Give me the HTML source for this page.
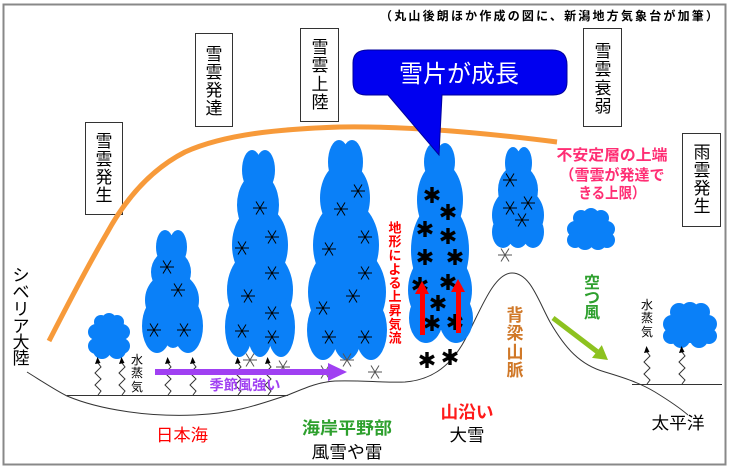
<!DOCTYPE html>
<html><head><meta charset="utf-8"><style>
html,body{margin:0;padding:0;background:#fff;}
svg{display:block;}
text{font-family:"Liberation Sans","Noto Sans CJK JP",sans-serif;}
</style></head><body>
<svg width="730" height="469" viewBox="0 0 730 469" xmlns="http://www.w3.org/2000/svg">
<defs>
<g id="a"><path d="M-7,0H7M-4,-6.5L4,6.5M-4,6.5L4,-6.5" stroke="#000" stroke-width="1" fill="none"/></g>
<g id="g"><path d="M-7,0H7M-4,-6.5L4,6.5M-4,6.5L4,-6.5" stroke="#555" stroke-width="1" fill="none"/></g>
<g id="b"><path d="M0,-8V8M-7,-4L7,4M-7,4L7,-4" stroke="#000" stroke-width="3.4" fill="none"/></g>
<g id="z"><path d="M0,0 L3,-4 L-3,-10 L3,-16 L-3,-22 L3,-28 L0,-32" stroke="#333" stroke-width="1" fill="none"/><path d="M-3,-31 L2.5,-32 L-0.5,-38 Z" fill="#000"/></g>
</defs>
<rect x="0" y="0" width="730" height="469" fill="#fff"/>
<rect x="3.5" y="4.5" width="722" height="460" fill="none" stroke="#888" stroke-width="2"/>

<text x="549" y="20" font-size="12" font-weight="bold" text-anchor="middle" textLength="338" lengthAdjust="spacing">（丸山後朗ほか作成の図に、新潟地方気象台が加筆）</text>

<!-- boxes -->
<g fill="#fff" stroke="#333" stroke-width="1">
<rect x="85.5" y="122.5" width="37" height="92"/>
<rect x="195.5" y="33.5" width="37" height="93"/>
<rect x="300.5" y="28.5" width="38" height="93"/>
<rect x="583.5" y="28.5" width="38" height="98"/>
<rect x="682.5" y="133.5" width="38" height="93"/>
</g>
<g font-size="17" text-anchor="middle" fill="#000">
<text x="104" y="147">雪</text><text x="104" y="165">雲</text><text x="104" y="183">発</text><text x="104" y="201">生</text>
<text x="214" y="60">雪</text><text x="214" y="78">雲</text><text x="214" y="96">発</text><text x="214" y="114">達</text>
<text x="320" y="53">雪</text><text x="320" y="71">雲</text><text x="320" y="90">上</text><text x="320" y="108">陸</text>
<text x="603" y="57">雪</text><text x="603" y="75">雲</text><text x="603" y="94">衰</text><text x="603" y="112">弱</text>
<text x="702" y="158">雨</text><text x="702" y="176">雲</text><text x="702" y="194">発</text><text x="702" y="212">生</text>
<text x="21" y="281">シ</text><text x="21" y="298">ベ</text><text x="21" y="315">リ</text><text x="21" y="332">ア</text><text x="21" y="348">大</text><text x="21" y="364">陸</text>
</g>

<!-- orange curve -->
<path d="M49,341 C70,300 90,262 107,233 C125,200 150,170 185,152 C225,134 280,129 340,127 C400,126 470,131 557,142" fill="none" stroke="#f79a3a" stroke-width="5"/>

<!-- ground lines -->
<path d="M27,372 C40,380 55,390 67,396 C100,410 150,417 195,415 C240,413 265,402 288,395 C305,388 318,382 335,381 C360,380 385,383 405,382 C430,380 448,368 462,345 C478,318 492,273 512,273 C530,273 538,300 550,322 C565,348 580,365 605,372 C625,378 640,383 655,392 C668,400 680,408 688,415" fill="none" stroke="#333" stroke-width="1"/>
<line x1="67" y1="395.5" x2="288" y2="395.5" stroke="#333" stroke-width="1"/>
<line x1="632" y1="384.5" x2="722" y2="384.5" stroke="#333" stroke-width="1"/>

<!-- clouds -->
<g fill="#0a80f8">
<circle cx="101" cy="322" r="7"/><circle cx="109" cy="320" r="7"/><circle cx="117" cy="322" r="7"/>
<circle cx="96" cy="332" r="8"/><circle cx="122" cy="332" r="8"/><circle cx="109" cy="336" r="15"/>
<circle cx="96" cy="346" r="8"/><circle cx="122" cy="346" r="8"/><circle cx="102" cy="350" r="9"/><circle cx="117" cy="350" r="9"/>
<ellipse cx="165" cy="247" rx="9" ry="17"/><ellipse cx="178" cy="247" rx="9" ry="17"/>
<ellipse cx="171" cy="272" rx="20" ry="22"/><ellipse cx="172" cy="300" rx="27" ry="28"/>
<ellipse cx="157" cy="326" rx="15" ry="27"/><ellipse cx="173" cy="326" rx="12" ry="22"/><ellipse cx="188" cy="326" rx="15" ry="27"/>
<ellipse cx="252" cy="170" rx="10" ry="20"/><ellipse cx="265" cy="170" rx="10" ry="20"/>
<ellipse cx="258" cy="205" rx="21" ry="32"/><ellipse cx="260" cy="245" rx="28" ry="40"/><ellipse cx="260" cy="290" rx="33" ry="42"/>
<ellipse cx="239" cy="327" rx="14" ry="30"/><ellipse cx="260" cy="329" rx="13" ry="28"/><ellipse cx="281" cy="327" rx="14" ry="30"/>
<ellipse cx="339" cy="162" rx="11" ry="22"/><ellipse cx="352" cy="162" rx="11" ry="22"/>
<ellipse cx="345" cy="198" rx="25" ry="36"/><ellipse cx="346" cy="245" rx="33" ry="45"/><ellipse cx="347" cy="292" rx="39" ry="48"/>
<ellipse cx="323" cy="330" rx="16" ry="30"/><ellipse cx="347" cy="332" rx="15" ry="28"/><ellipse cx="371" cy="330" rx="16" ry="30"/>
<ellipse cx="434" cy="162" rx="10" ry="19"/><ellipse cx="445" cy="162" rx="10" ry="19"/>
<ellipse cx="440" cy="200" rx="23" ry="38"/><ellipse cx="440" cy="250" rx="29" ry="48"/><ellipse cx="440" cy="290" rx="32" ry="40"/>
<ellipse cx="426" cy="318" rx="17" ry="25"/><ellipse cx="456" cy="318" rx="17" ry="25"/>
<ellipse cx="513" cy="163" rx="8" ry="16"/><ellipse cx="524" cy="163" rx="8" ry="16"/>
<ellipse cx="518" cy="190" rx="20" ry="25"/><ellipse cx="518" cy="215" rx="26" ry="28"/>
<ellipse cx="503" cy="232" rx="11" ry="16"/><ellipse cx="518" cy="233" rx="11" ry="15"/><ellipse cx="533" cy="232" rx="11" ry="16"/>
<circle cx="581" cy="218" r="8"/><circle cx="591" cy="216" r="8"/><circle cx="601" cy="218" r="8"/>
<circle cx="575" cy="229" r="8"/><circle cx="607" cy="229" r="8"/><circle cx="591" cy="230" r="15"/>
<circle cx="575" cy="240" r="8"/><circle cx="607" cy="240" r="8"/><circle cx="585" cy="241" r="9"/><circle cx="598" cy="241" r="9"/>
<circle cx="679" cy="312" r="9"/><circle cx="690" cy="311" r="9"/><circle cx="701" cy="312" r="9"/>
<circle cx="672" cy="324" r="9"/><circle cx="708" cy="324" r="9"/><circle cx="690" cy="326" r="17"/>
<circle cx="671" cy="336" r="8"/><circle cx="709" cy="336" r="8"/><circle cx="681" cy="339" r="9"/><circle cx="699" cy="339" r="9"/>
</g>

<use href="#a" x="167" y="267"/><use href="#a" x="178" y="290"/><use href="#a" x="154" y="330"/><use href="#a" x="184" y="330"/>
<use href="#a" x="260" y="208"/><use href="#a" x="272" y="237"/><use href="#a" x="242" y="248"/><use href="#a" x="272" y="273"/>
<use href="#a" x="248" y="296"/><use href="#a" x="272" y="313"/><use href="#a" x="242" y="331"/><use href="#a" x="272" y="337"/>
<use href="#a" x="358" y="191"/><use href="#a" x="341" y="209"/><use href="#a" x="365" y="237"/><use href="#a" x="329" y="249"/>
<use href="#a" x="365" y="273"/><use href="#a" x="353" y="296"/><use href="#a" x="323" y="308"/><use href="#a" x="329" y="337"/><use href="#a" x="365" y="337"/>
<use href="#a" x="510" y="180"/><use href="#a" x="510" y="208"/><use href="#a" x="528" y="203"/><use href="#a" x="522" y="220"/>
<use href="#g" x="250" y="360"/><use href="#g" x="283" y="367"/><use href="#g" x="325" y="372"/><use href="#g" x="347" y="360"/><use href="#g" x="375" y="372"/><use href="#g" x="505" y="255"/>

<use href="#b" x="432" y="195"/><use href="#b" x="448" y="212"/><use href="#b" x="425" y="229"/><use href="#b" x="448" y="236"/>
<use href="#b" x="425" y="257"/><use href="#b" x="455" y="257"/><use href="#b" x="420" y="285"/><use href="#b" x="448" y="282"/>
<use href="#b" x="438" y="303"/><use href="#b" x="432" y="323"/><use href="#b" x="455" y="322"/><use href="#b" x="427" y="360"/><use href="#b" x="450" y="357"/>

<g fill="#ff0000">
<rect x="420" y="292" width="5" height="43"/><path d="M415,294 L429,294 L422,281 Z"/>
<rect x="456" y="290" width="5" height="43"/><path d="M451,292 L465,292 L458,279 Z"/>
</g>

<use href="#z" x="98" y="395"/><use href="#z" x="122" y="395"/><use href="#z" x="168" y="395"/>
<use href="#z" x="193" y="395"/><use href="#z" x="238" y="395"/><use href="#z" x="268" y="395"/>
<use href="#z" x="647" y="384"/><use href="#z" x="682" y="384"/>

<rect x="155" y="369" width="175" height="6" fill="#a040f2"/>
<path d="M328,363 L347,372 L328,381 Z" fill="#a040f2"/>

<line x1="553" y1="318" x2="597" y2="351.5" stroke="#8dc21f" stroke-width="5"/>
<path d="M608,360 L592,357.9 L601.8,345.1 Z" fill="#8dc21f"/>

<path d="M368,50 H552 Q567,50 567,65 V82 Q567,95 553,95 H442 L439,155 L388,95 H366 Q353,95 353,82 V63 Q353,50 368,50 Z" fill="#0000f0" stroke="#00009a" stroke-width="1"/>
<text x="459" y="82" font-size="24" fill="#fff" text-anchor="middle" textLength="120" lengthAdjust="spacingAndGlyphs">雪片が成長</text>

<g font-size="13" font-weight="bold" fill="#ff0000" text-anchor="middle">
<text x="395" y="232.5">地</text><text x="395" y="246">形</text><text x="395" y="260">に</text><text x="395" y="274">よ</text><text x="395" y="287.5">る</text><text x="395" y="301">上</text><text x="395" y="315">昇</text><text x="395" y="329">気</text><text x="395" y="342.5">流</text>
</g>
<g font-size="12" fill="#000" text-anchor="middle">
<text x="137" y="364">水</text><text x="137" y="377">蒸</text><text x="137" y="391">気</text>
<text x="647" y="309">水</text><text x="647" y="322">蒸</text><text x="647" y="336">気</text>
</g>
<g font-size="17" font-weight="bold" fill="#d07828" text-anchor="middle">
<text x="515" y="321">背</text><text x="515" y="339">梁</text><text x="515" y="358">山</text><text x="515" y="376">脈</text>
</g>
<g font-size="16" font-weight="bold" fill="#2ea02e" text-anchor="middle">
<text x="592" y="288">空</text><text x="592" y="303">つ</text><text x="592" y="318">風</text>
</g>

<g font-size="15" font-weight="bold" fill="#ff2e74" text-anchor="middle">
<text x="612" y="160" textLength="111" lengthAdjust="spacingAndGlyphs">不安定層の上端</text>
<text x="612" y="180" textLength="105" lengthAdjust="spacingAndGlyphs">（雪雲が発達で</text>
<text x="612" y="198" textLength="67" lengthAdjust="spacingAndGlyphs">きる上限）</text>
</g>

<text x="245" y="390" font-size="14" font-weight="bold" fill="#a040f2" text-anchor="middle" textLength="71" lengthAdjust="spacingAndGlyphs">季節風強い</text>
<text x="182" y="441" font-size="17" fill="#ff0000" text-anchor="middle" textLength="52" lengthAdjust="spacingAndGlyphs">日本海</text>
<text x="347" y="434" font-size="17" font-weight="bold" fill="#2ea02e" text-anchor="middle" textLength="90" lengthAdjust="spacingAndGlyphs">海岸平野部</text>
<text x="347" y="458" font-size="17" fill="#000" text-anchor="middle" textLength="71" lengthAdjust="spacingAndGlyphs">風雪や雷</text>
<text x="467" y="418" font-size="17" font-weight="bold" fill="#ff1a1a" text-anchor="middle" textLength="53" lengthAdjust="spacingAndGlyphs">山沿い</text>
<text x="467" y="441" font-size="17" fill="#000" text-anchor="middle" textLength="35" lengthAdjust="spacingAndGlyphs">大雪</text>
<text x="678" y="429" font-size="17" fill="#000" text-anchor="middle" textLength="53" lengthAdjust="spacingAndGlyphs">太平洋</text>
</svg>
</body></html>
